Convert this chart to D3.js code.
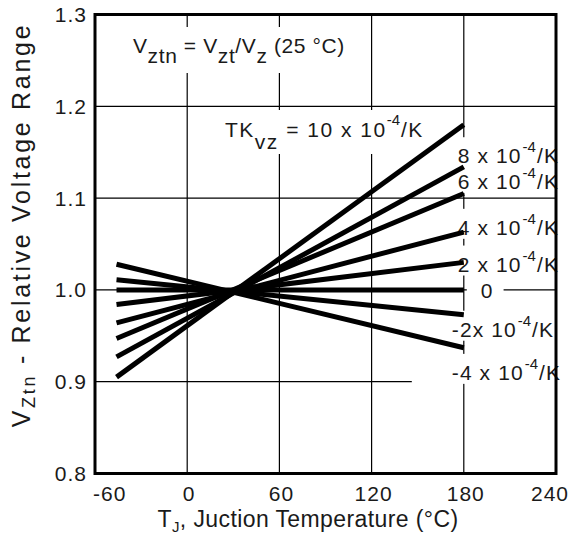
<!DOCTYPE html>
<html>
<head>
<meta charset="utf-8">
<script src="https://cdn.jsdelivr.net/npm/d3@7"></script>
<style>
body { margin: 0; background: #fff; }
text { font-family: "Liberation Sans", Arial, sans-serif; fill: #1a1a1a; }
</style>
</head>
<body>
<div id="chart"></div>
<script>
// temperature coefficient of each line, in 10^-4 / K
var tkValues = [10, 8, 6, 4, 2, 0, -2, -4];
// every line runs from tStart to tEnd (deg C)
var tStart = -46, tEnd = 180;
var vStart = [0.905, 0.927, 0.947, 0.964, 0.984, 1.000, 1.011, 1.028];
var vEnd   = [1.180, 1.134, 1.105, 1.063, 1.030, 1.000, 0.973, 0.937];

var xTicks = [-60, 0, 60, 120, 180, 240];
var xTickLabels = ["-60", "0", "60", "120", "180", "240"];
var yTicks = [0.8, 0.9, 1.0, 1.1, 1.2, 1.3];
var yTickLabels = ["0.8", "0.9", "1.0", "1.1", "1.2", "1.3"];

// labels at the right hand end of the lines
var labelText = ["8 x 10", "6 x 10", "4 x 10", "2 x 10", "0", "-2x 10", "-4 x 10"];
var labelV    = [1.138, 1.110, 1.060, 1.020, 0.991, 0.949, 0.902];

var width = 572, height = 546;

var x = d3.scaleLinear().domain([-60, 240]).range([95, 556]);
var y = d3.scaleLinear().domain([0.8, 1.3]).range([473.5, 14.5]);

var svg = d3.select("#chart").append("svg")
    .attr("width", width)
    .attr("height", height);

// grid
var grid = svg.append("g").attr("stroke", "#000").attr("stroke-width", 1.2);
grid.selectAll(".vg")
  .data(xTicks.slice(1, -1))
  .enter().append("line")
    .attr("x1", function(d) { return x(d); })
    .attr("x2", function(d) { return x(d); })
    .attr("y1", y(1.3)).attr("y2", y(0.8));
grid.selectAll(".hg")
  .data(yTicks.slice(1, -1))
  .enter().append("line")
    .attr("x1", x(-60)).attr("x2", x(240))
    .attr("y1", function(d) { return y(d); })
    .attr("y2", function(d) { return y(d); });

var boxes = svg.append("g");
var texts = svg.append("g");

// writes a text made of parts; sub / sup parts are shifted
function rich(g, px, py, parts, size, spacing) {
  var t = g.append("text").attr("x", px).attr("y", py)
    .style("font-size", size + "px")
    .style("letter-spacing", (spacing || 0) + "px");
  var shift = 0;
  parts.forEach(function(p) {
    var s = t.append("tspan").text(p.t);
    var want = p.sub ? p.sub : (p.sup ? -p.sup : 0);
    s.attr("dy", want - shift);
    shift = want;
    if (p.size) s.style("font-size", p.size + "px");
    if (p.sup) s.style("letter-spacing", "0px");
    if (p.dx) s.attr("dx", p.dx);
  });
  return t;
}

function whiteBox(t, padL, padR, padT, padB) {
  var b = t.node().getBBox();
  boxes.append("rect")
    .attr("x", b.x - padL).attr("y", b.y - padT)
    .attr("width", b.width + padL + padR)
    .attr("height", b.height + padT + padB)
    .attr("fill", "#fff");
}

// formula
var f = rich(texts, 133, 53, [
  {t: "V"}, {t: "ztn", sub: 10}, {t: " = V"}, {t: "zt", sub: 10},
  {t: "/V"}, {t: "z", sub: 10}, {t: " (25 °C)"}
], 21, 0.6);
whiteBox(f, 6, 6, 7, 6);

// TK label
var tk = rich(texts, 225, 137, [
  {t: "TK"}, {t: "vz", sub: 12}, {t: " = 10 x 10"}, {t: "-4", sup: 12, size: 15}, {t: "/K", dx: 1}
], 21, 1.5);
whiteBox(tk, 6, 4, 1, 1);

// right hand labels
labelText.forEach(function(s, i) {
  var px = x(tEnd) - 6, padL = 2, padR = 2;
  if (s === "0") { px = x(tEnd) + 17; padL = 14; padR = 10; }
  else if (s.charAt(0) === "-") { px -= 6; }
  if (i === labelText.length - 1) padL = 40;
  var parts = s === "0" ? [{t: s}] : [{t: s}, {t: "-4", sup: 11, size: 15, dx: 1}, {t: "/K", dx: 1}];
  var t = rich(texts, px, y(labelV[i]), parts, 21, 1.1);
  whiteBox(t, padL, padR, 1, 0);
});

// frame
svg.append("rect")
  .attr("x", x(-60)).attr("y", y(1.3))
  .attr("width", x(240) - x(-60)).attr("height", y(0.8) - y(1.3))
  .attr("fill", "none").attr("stroke", "#000").attr("stroke-width", 3);

// lines
var line = d3.line().x(function(d) { return x(d[0]); }).y(function(d) { return y(d[1]); });
svg.append("g").selectAll("path")
  .data(tkValues)
  .enter().append("path")
    .attr("d", function(d, i) { return line([[tStart, vStart[i]], [tEnd, vEnd[i]]]); })
    .attr("fill", "none")
    .attr("stroke", "#000")
    .attr("stroke-width", 5);

// tick labels
var nX = xTicks.length;
svg.append("g").selectAll("text")
  .data(xTicks)
  .enter().append("text")
    .attr("x", function(d, i) { return i === 0 ? x(d) - 2 : (i === nX - 1 ? 569 : x(d) + 2); })
    .attr("y", 501)
    .attr("text-anchor", function(d, i) { return i === 0 ? "start" : (i === nX - 1 ? "end" : "middle"); })
    .style("font-size", "21px")
    .style("letter-spacing", "1px")
    .text(function(d, i) { return xTickLabels[i]; });

svg.append("g").selectAll("text")
  .data(yTicks)
  .enter().append("text")
    .attr("x", 87)
    .attr("y", function(d) { return y(d) + 7.5; })
    .attr("text-anchor", "end")
    .style("font-size", "21px")
    .style("letter-spacing", "1px")
    .text(function(d, i) { return yTickLabels[i]; });

// axis titles
var xt = rich(svg, 308, 527, [
  {t: "T"}, {t: "J", sub: 5, size: 15}, {t: ", Juction Temperature (°C)"}
], 23, 0.4);
xt.attr("text-anchor", "middle");

var yt = rich(svg.append("g").attr("transform", "translate(30,225) rotate(-90)"), 0, 0, [
  {t: "V"}, {t: "Ztn", sub: 5, size: 18}, {t: " - Relative Voltage Range"}
], 25, 2.7);
yt.attr("text-anchor", "middle");
</script>
</body>
</html>
